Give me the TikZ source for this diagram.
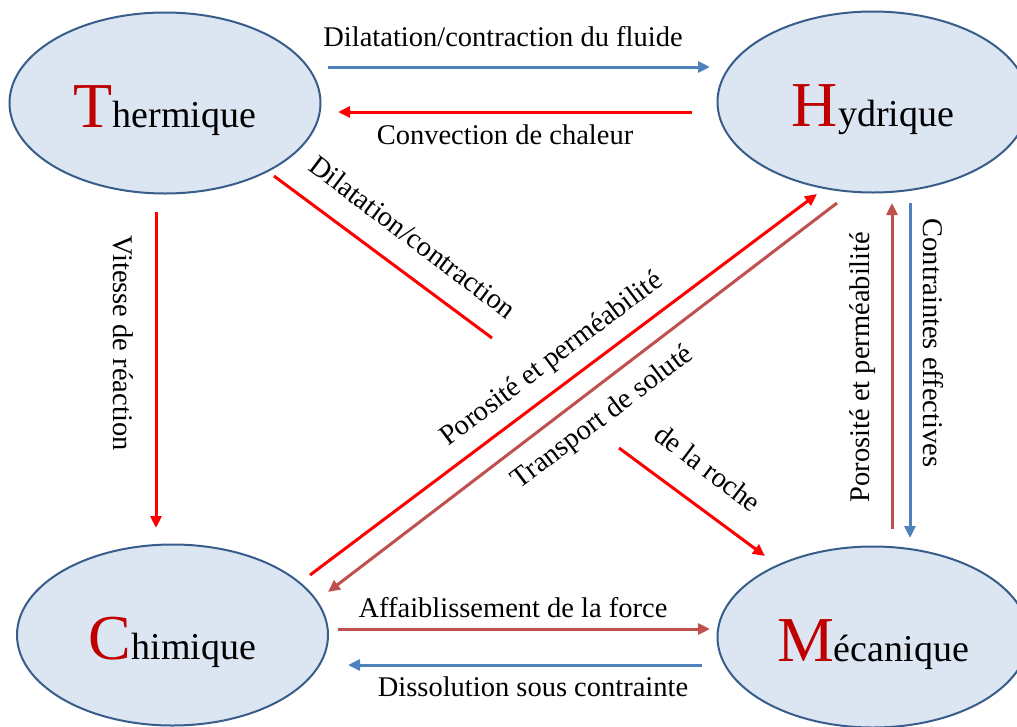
\documentclass[tikz,border=0pt]{standalone}
\usepackage{fontspec}
\setmainfont{Liberation Serif}
\usetikzlibrary{shapes.geometric,arrows.meta,calc}
\definecolor{bordure}{RGB}{56,93,138}
\definecolor{fond}{RGB}{220,230,242}
\definecolor{lettre}{RGB}{192,0,0}
\definecolor{bleu}{RGB}{79,129,189}
\definecolor{brique}{RGB}{192,80,77}
\definecolor{rouge}{RGB}{255,0,0}
\tikzset{
  etat/.style={ellipse, draw=bordure, line width=2pt, fill=fond,
    minimum width=311pt, minimum height=181pt, inner sep=0pt,
    text height=48pt, text depth=0pt},
  fleche/.style={line width=3pt, -{Triangle[length=12pt,width=11pt]}},
  lien/.style={font=\fontsize{28.5}{32}\selectfont, inner sep=0pt},
}
\newcommand{\etiq}[2]{{\fontsize{64}{64}\selectfont\color{lettre}#1}{\fontsize{38}{38}\selectfont #2}}
\begin{document}
\begin{tikzpicture}[x=1pt, y=-1pt]
  \clip (0,0) rectangle (1017,726);
  \useasboundingbox (0,0) rectangle (1017,726);
  % the four domains, using a loop
  \foreach \nom/\x/\y/\initiale/\suite in {therm/165/103/T/hermique, hydr/873/102/H/ydrique,
      chim/172.5/635/C/himique, meca/873/637/M/écanique}
    \node[etat] (\nom) at (\x,\y) {\etiq{\initiale}{\suite}};

  % thermique <-> hydrique
  \draw[fleche, bleu] ($(therm)+(163,-36)$) -- ($(hydr)+(-163,-35)$);
  \draw[fleche, rouge] ($(hydr)+(-181,10)$) -- ($(therm)+(173,9)$);
  \node[lien] (fluide) at (503,37) {Dilatation/contraction du fluide};
  \node[lien] (chaleur) at (505,135) {Convection de chaleur};

  % thermique -> chimique
  \draw[fleche, rouge] ($(therm)+(-9,109)$) -- ($(chim)+(-16.5,-107)$);
  \node[lien, rotate=-90] (vitesse) at (123,343) {Vitesse de réaction};

  % thermique -> mecanique, interrupted line
  \coordinate (coupeA) at (492,338);
  \coordinate (coupeB) at (619,448);
  \draw[rouge, line width=3pt] ($(therm)+(109,73)$) -- (coupeA);
  \draw[fleche, rouge] (coupeB) -- ($(meca)+(-108,-81)$);
  \node[lien, rotate=-37] (dilat) at (413,237) {Dilatation/contraction};
  \node[lien, rotate=-37] (roche) at (708,468) {de la roche};

  % chimique <-> hydrique
  \draw[fleche, rouge] ($(chim)+(137.5,-60)$) -- ($(hydr)+(-56,92)$);
  \draw[fleche, brique] ($(hydr)+(-36,101)$) -- ($(chim)+(155.5,-43)$);
  \node[lien, rotate=37] (poro) at (552,360) {Porosité et perméabilité};
  \node[lien, rotate=37] (solute) at (603,418) {Transport de soluté};

  % mecanique <-> hydrique
  \draw[fleche, brique] ($(meca)+(19,-108)$) -- ($(hydr)+(19,101)$);
  \draw[fleche, bleu] ($(hydr)+(37,101)$) -- ($(meca)+(37,-99)$);
  \node[lien, rotate=90] (poroB) at (863,367) {Porosité et perméabilité};
  \node[lien, rotate=-90] (contr) at (933,343) {Contraintes effectives};

  % chimique <-> mecanique
  \draw[fleche, brique] ($(chim)+(165.5,-6)$) -- ($(meca)+(-163,-8)$);
  \draw[fleche, bleu] ($(meca)+(-171,28)$) -- ($(chim)+(175.5,30)$);
  \node[lien] (force) at (513,608) {Affaiblissement de la force};
  \node[lien] (dissol) at (533,687) {Dissolution sous contrainte};
\end{tikzpicture}
\end{document}
